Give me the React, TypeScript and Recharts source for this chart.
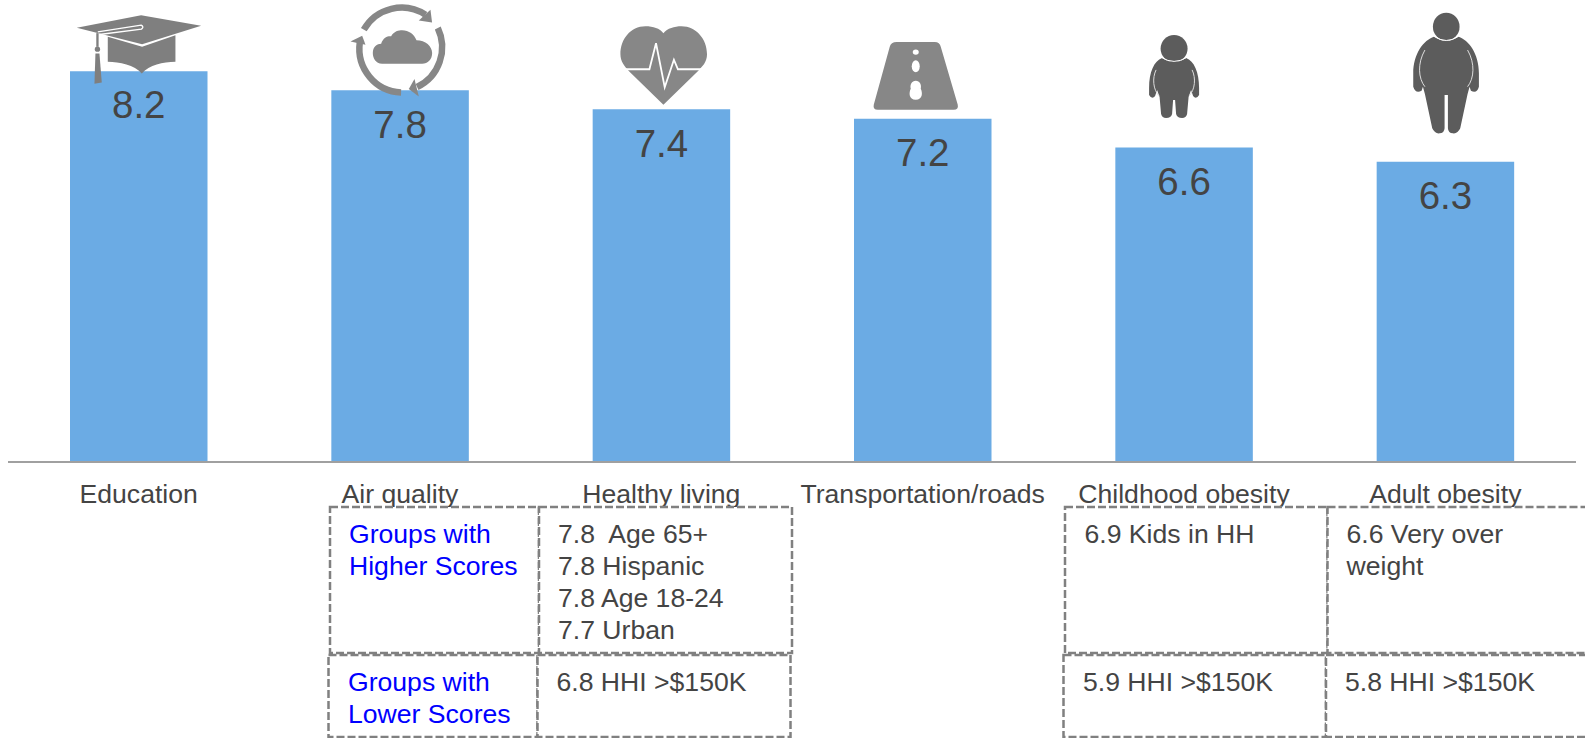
import React from "react";
import { BarChart, Bar, XAxis, YAxis, LabelList } from "recharts";

const categories = ["Education", "Air quality", "Healthy living", "Transportation/roads", "Childhood obesity", "Adult obesity"];
const scores = [8.2, 7.8, 7.4, 7.2, 6.6, 6.3];
const groupHeaderHigh = ["Groups with", "Higher Scores"];
const groupHeaderLow = ["Groups with", "Lower Scores"];
const healthyHigh = ["7.8  Age 65+", "7.8 Hispanic", "7.8 Age 18-24", "7.7 Urban"];
const healthyLow = ["6.8 HHI >$150K"];
const childHigh = ["6.9 Kids in HH"];
const childLow = ["5.9 HHI >$150K"];
const adultHigh = ["6.6 Very over", "weight"];
const adultLow = ["5.8 HHI >$150K"];

const rows = categories.map((name, i) => ({ name, value: scores[i] }));

const GRAY = "#878787";
const DARK = "#5C5C5C";
const TEXT = "#444444";
const FONT = "'Liberation Sans', Arial, sans-serif";

const Hat = () => (
  <g transform="translate(-69.3,-66) scale(0.3333)" fill="#7F7F7F">
    <path d="M215,30 L395,62 L218,117 L22,68 Z" />
    <path d="M115,95 L218,125 L318,90 L318,170 C280,170 240,180 217,205 C195,180 150,170 115,170 Z" />
    <path d="M85,80 L215,60 Q225,65 216,72 L90,88" fill="none" stroke="#fff" strokeWidth={4} />
    <path d="M84,84 L84,125" stroke="#7F7F7F" strokeWidth={7} fill="none" />
    <circle cx={84} cy={132} r={8} />
    <path d="M78,145 L90,145 L97,232 L75,236 Z" />
  </g>
);

const Cycle = () => (
  <g>
    <g fill="none" stroke={GRAY} strokeWidth={6.5}>
      <path d="M-36.3,-60.5 A43.5 43.5 0 0 1 25.4,-75.5" />
      <path d="M37.7,-62.2 A43.5 44 0 0 1 17,-3.2" />
      <path d="M1,2.2 A43 44 0 0 1 -40.3,-47.8" />
    </g>
    <g fill={GRAY}>
      <path d="M30.4,-80.5 L32,-67.8 L18.7,-69.8 Z" />
      <path d="M18.7,6.2 L8.7,-1.2 L14.4,-11.2 Z" />
      <path d="M-49.6,-48.8 L-37.9,-54.5 L-34.6,-45.5 Z" />
      <path
        transform="translate(-59.6,-90.5) scale(0.3333)"
        d="M125,192 C105,192 97,175 97,160 C97,140 110,132 122,132 C128,112 145,108 152,110 C160,95 175,92 185,92 C205,92 222,105 228,122 C255,122 275,140 275,160 C275,180 262,192 245,192 Z"
      />
    </g>
  </g>
);

const Heart = () => (
  <g>
    <path
      fill={GRAY}
      d="M2,-76 C6,-81 13,-83 20,-83 C35,-83 45.6,-70 45.6,-55 C45.6,-47 41,-43 36.4,-38 L2,-4.5 L-32.4,-38 C-37,-43 -41,-48 -41,-55 C-41,-70 -31,-83 -16,-83 C-8,-83 -2,-81 2,-76 Z"
    />
    <path
      fill="none"
      stroke="#fff"
      strokeWidth={1.8}
      d="M-38,-40 L-12,-40 L-5.4,-66 L3.3,-22 L12.5,-49.5 L16.5,-40 L42,-40"
    />
  </g>
);

const Road = () => (
  <g>
    <path
      fill={GRAY}
      d="M-26,-76.7 L12,-76.7 Q17,-76.7 18,-72 L35,-14 Q36,-9 31,-9 L-45,-9 Q-50,-9 -49,-14 L-33,-72 Q-32,-76.7 -26,-76.7 Z"
    />
    <ellipse cx={-7} cy={-66.7} rx={3} ry={2.7} fill="#fff" />
    <ellipse cx={-7} cy={-52.5} rx={4} ry={6} fill="#fff" />
    <path d="M-7,-38 C-3,-38 -1,-34 -2,-30 C0,-26 0,-19 -7,-19 C-14,-19 -14,-26 -12,-30 C-13,-34 -11,-38 -7,-38 Z" fill="#fff" />
  </g>
);

const Child = () => (
  <g transform="translate(-10,-147.5)" fill={DARK}>
    <ellipse cx={0} cy={48.7} rx={13.5} ry={13.7} />
    <path d="M-12,58 Q0,66 12,58 C20,61 25,72 25,88 L25,95 Q22,100 19,96 L17,90 L14.5,97 L13,114 Q12,118 8,118 Q3,118 2,114 L1,100 L-1,100 L-2,114 Q-3,118 -8,118 Q-12,118 -13,114 L-14.5,97 L-17,90 L-19,96 Q-22,100 -25,95 L-25,88 C-25,72 -20,61 -12,58 Z" />
    <path d="M-12.5,57.5 Q0,65.5 12.5,57.5" fill="none" stroke="#fff" strokeWidth={1} />
    <path d="M-18,70 C-22,78 -21,90 -15,96 M18,70 C22,78 21,90 15,96" fill="none" stroke="#ddd" strokeWidth={1} />
  </g>
);

const Adult = () => (
  <g transform="translate(-46.5,-155) scale(0.3333)" fill={DARK}>
    <ellipse cx={142} cy={60} rx={40} ry={42} />
    <path d="M105,90 C75,100 43,140 43,200 L43,240 Q50,262 68,252 L72,240 L78,262 L100,365 Q108,382 122,380 Q136,380 137,365 L137,265 L147,265 L147,365 Q148,380 162,380 Q176,382 184,365 L206,262 L212,240 L216,252 Q234,262 240,240 L240,200 C240,140 209,100 179,90 Q142,115 105,90 Z" />
    <path d="M105,88 Q142,115 179,88" fill="none" stroke="#fff" strokeWidth={3} />
    <path d="M78,130 C55,170 58,215 78,240 M206,130 C229,170 226,215 206,240" fill="none" stroke="#ddd" strokeWidth={3} />
  </g>
);

const icons = [Hat, Cycle, Heart, Road, Child, Adult];

const IconLabel = (props: any) => {
  const { x, y, width, index } = props;
  const Icon = icons[index];
  return (
    <g transform={`translate(${x + width / 2},${y})`}>
      <Icon />
    </g>
  );
};

const Lines = ({ x, y, lines, fill = TEXT }: { x: number; y: number; lines: string[]; fill?: string }) => (
  <text x={x} fontFamily={FONT} fontSize={26.6} fill={fill} xmlSpace="preserve">
    {lines.map((t, i) => (
      <tspan key={i} x={x} y={y + i * 32} xmlSpace="preserve" style={{ whiteSpace: "pre" }}>
        {t}
      </tspan>
    ))}
  </text>
);

const Cell = ({ x, y, w, h }: { x: number; y: number; w: number; h: number }) => (
  <rect x={x} y={y} width={w} height={h} fill="#fff" stroke="#808080" strokeWidth={2.5} strokeDasharray="8 3" />
);

export default function App() {
  return (
    <div style={{ position: "absolute", left: 0, top: 0, width: 1585, height: 738, overflow: "hidden", background: "#fff" }}>
      <BarChart
        width={1585}
        height={738}
        data={rows}
        margin={{ top: 33, right: 9, bottom: 246, left: 8 }}
        style={{ position: "absolute", left: 0, top: 0 }}
      >
        <XAxis
          dataKey="name"
          interval={0}
          height={30}
          tickLine={false}
          axisLine={{ stroke: "#A0A0A0", strokeWidth: 2 }}
          tickMargin={16}
          tick={{ fontSize: 26.6, fill: TEXT, fontFamily: FONT }}
        />
        <YAxis hide domain={[0, 9]} />
        <Bar dataKey="value" fill="#6BABE4" barSize={137.5} isAnimationActive={false}>
          <LabelList
            dataKey="value"
            position="insideTop"
            offset={20}
            style={{ fontSize: 38.5, fill: TEXT, fontFamily: FONT }}
          />
          <LabelList dataKey="value" content={IconLabel} />
        </Bar>
      </BarChart>
      <svg width={1585} height={738} style={{ position: "absolute", left: 0, top: 0, pointerEvents: "none" }}>
        <Cell x={330} y={507} w={209} h={146} />
        <Cell x={539} y={507} w={253} h={146} />
        <Cell x={328.5} y={655} w={209} h={82} />
        <Cell x={537.5} y={655} w={253} h={82} />
        <Cell x={1065} y={507} w={262.5} h={146} />
        <Cell x={1327.5} y={507} w={270} h={146} />
        <Cell x={1063.5} y={655} w={262.5} h={82} />
        <Cell x={1326} y={655} w={270} h={82} />
        <Lines x={349} y={542.7} lines={groupHeaderHigh} fill="#0000FF" />
        <Lines x={348} y={690.7} lines={groupHeaderLow} fill="#0000FF" />
        <Lines x={558} y={542.7} lines={healthyHigh} />
        <Lines x={556.5} y={690.7} lines={healthyLow} />
        <Lines x={1084.5} y={542.7} lines={childHigh} />
        <Lines x={1083} y={690.7} lines={childLow} />
        <Lines x={1346.5} y={542.7} lines={adultHigh} />
        <Lines x={1345} y={690.7} lines={adultLow} />
      </svg>
    </div>
  );
}
